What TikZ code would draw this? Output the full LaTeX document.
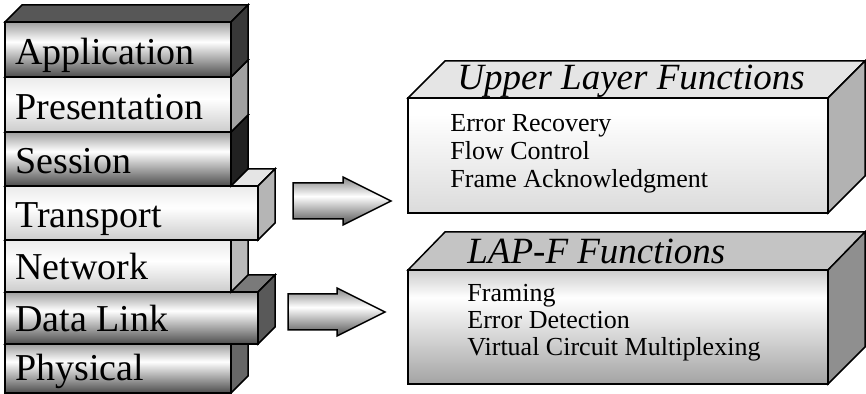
\documentclass[tikz,border=0pt]{standalone}
\usepackage{fontspec}
\setmainfont{Liberation Serif}

% Vertical shadings: the path's box maps to 25bp (bottom) .. 75bp (top)
\pgfdeclareverticalshading{layerdark}{100bp}{rgb(0bp)=(.30,.30,.30); rgb(25bp)=(.30,.30,.30); rgb(57bp)=(1,1,1); rgb(75bp)=(.62,.62,.62); rgb(100bp)=(.62,.62,.62)}
\pgfdeclareverticalshading{layerlight}{100bp}{rgb(0bp)=(.80,.80,.80); rgb(25bp)=(.80,.80,.80); rgb(55bp)=(1,1,1); rgb(75bp)=(.92,.92,.92); rgb(100bp)=(.92,.92,.92)}
\pgfdeclareverticalshading{arrowshade}{100bp}{rgb(0bp)=(.32,.32,.32); rgb(25bp)=(.32,.32,.32); rgb(55bp)=(1,1,1); rgb(75bp)=(.52,.52,.52); rgb(100bp)=(.52,.52,.52)}
\pgfdeclareverticalshading{upperfront}{100bp}{rgb(0bp)=(.86,.86,.86); rgb(25bp)=(.86,.86,.86); rgb(68bp)=(1,1,1); rgb(75bp)=(1,1,1); rgb(100bp)=(1,1,1)}
\pgfdeclareverticalshading{lowerfront}{100bp}{rgb(0bp)=(.64,.64,.64); rgb(25bp)=(.64,.64,.64); rgb(63bp)=(1,1,1); rgb(75bp)=(.80,.80,.80); rgb(100bp)=(.80,.80,.80)}

% One OSI layer: #1 name, #2 top, #3 bottom, #4 right edge of front,
% #5 front shading, #6 top face colour, #7 side colour, #8 label
\newcommand\osilayer[8]{%
  \draw[edge, fill=#6] (5,#2) -- (22,#2-17) -- (#4+17,#2-17) -- (#4,#2) -- cycle;
  \shadedraw[edge, shading=#5] (5,#2) rectangle (#4,#3);
  \draw[edge, fill=#7] (#4,#2) -- (#4+17,#2-17) -- (#4+17,#3-17) -- (#4,#3) -- cycle;
  \node[layertext] (#1) at (15,#3-12) {#8};
}

\begin{document}
\begin{tikzpicture}[x=0.5pt, y=-0.5pt,
  edge/.style={draw=black, line width=0.75pt, line join=miter},
  layertext/.style={anchor=base west, inner sep=0pt, font=\fontsize{19}{22}\selectfont},
  titletext/.style={anchor=base west, inner sep=0pt, font=\itshape\fontsize{18.5}{22}\selectfont},
  itemtext/.style={anchor=base west, inner sep=0pt, font=\fontsize{13}{15}\selectfont}]
\useasboundingbox (0,0) rectangle (866,394);

% OSI stack, drawn from the bottom up so upper layers overlap lower ones
\osilayer{physical}{344}{393}{231}{layerdark}{gray!70}{black!60}{Physical}
\osilayer{datalink}{292}{344}{258}{layerdark}{black!52}{black!65}{Data Link}
\osilayer{network}{240}{292}{231}{layerlight}{gray!40}{black!27}{Network}
\osilayer{transport}{186}{240}{258}{layerlight}{black!10}{black!29}{Transport}
\osilayer{session}{132}{186}{231}{layerdark}{black!60}{black!87}{Session}
\osilayer{presentation}{77}{132}{231}{layerlight}{black!30}{black!37}{Presentation}
\osilayer{application}{22}{77}{231}{layerdark}{black!66}{black!78}{Application}

% Block arrows
\shadedraw[edge, shading=arrowshade] (293,183) -- (343,183) -- (343,177) -- (391,201)
  -- (343,225) -- (343,219) -- (293,219) -- cycle;
\shadedraw[edge, shading=arrowshade] (288,294) -- (337,294) -- (337,288) -- (385,312)
  -- (337,336) -- (337,330) -- (288,330) -- cycle;

% Upper layer functions box
\draw[edge, fill=black!10] (408,98) -- (445,61) -- (865,61) -- (828,98) -- cycle;
\shadedraw[edge, shading=upperfront] (408,98) rectangle (828,213);
\draw[edge, fill=black!30] (828,98) -- (865,61) -- (865,176) -- (828,213) -- cycle;
\node[titletext] (uppertitle) at (457,90) {Upper Layer Functions};
\node[itemtext] (errrec) at (450,132) {Error Recovery};
\node[itemtext] (flowctl) at (450,160) {Flow Control};
\node[itemtext] (frameack) at (450,188) {Frame Acknowledgment};

% LAP-F functions box
\draw[edge, fill=black!23] (408,270) -- (445,232) -- (865,232) -- (828,270) -- cycle;
\shadedraw[edge, shading=lowerfront] (408,270) rectangle (828,384);
\draw[edge, fill=black!44] (828,270) -- (865,232) -- (865,347) -- (828,384) -- cycle;
\node[titletext] (laptitle) at (467,264) {LAP-F Functions};
\node[itemtext] (framing) at (467,302) {Framing};
\node[itemtext] (errdet) at (467,329) {Error Detection};
\node[itemtext] (vcmux) at (467,356) {Virtual Circuit Multiplexing};
\end{tikzpicture}
\end{document}
